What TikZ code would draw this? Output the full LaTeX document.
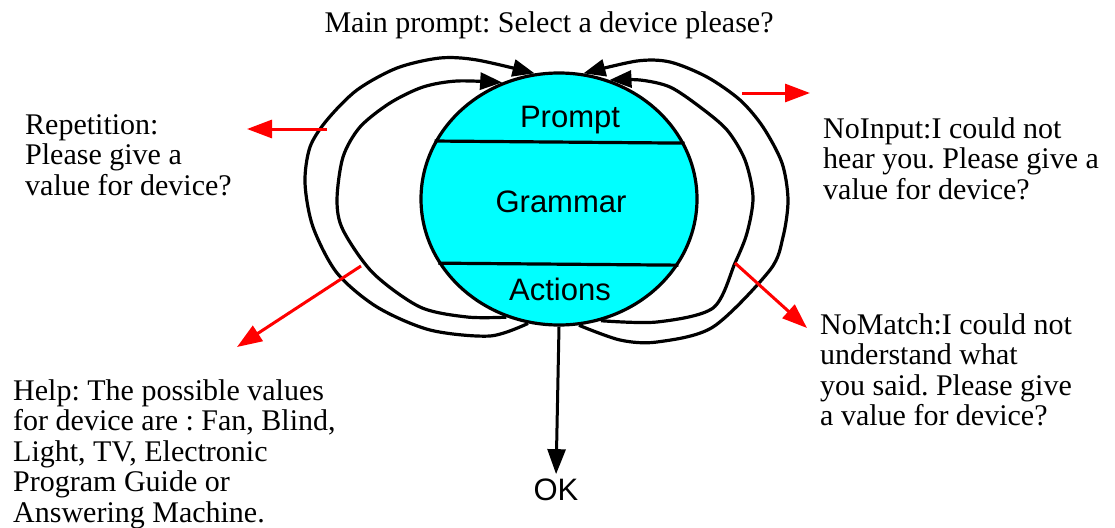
\documentclass[tikz,border=0pt]{standalone}
\usepackage{fontspec}
\setmainfont{Liberation Serif}
\setsansfont{Liberation Sans}
\usetikzlibrary{shapes.geometric,arrows.meta}
\definecolor{aqua}{RGB}{0,255,255}
\definecolor{hintred}{RGB}{255,0,0}
\frenchspacing

\begin{document}
\begin{tikzpicture}[x=1pt, y=-1pt, line join=round,
    txt/.style={font=\fontsize{30}{30.5}\selectfont, align=left, inner sep=0pt, anchor=north west},
    part/.style={font=\sffamily\fontsize{31}{31}\selectfont, inner sep=0pt, anchor=base},
    ring/.style={line width=3.2pt, -{Triangle[length=22pt,width=17pt]}},
    hint/.style={hintred, line width=3pt, -{Triangle[length=25pt,width=18pt]}}]
    \useasboundingbox (0,0) rectangle (1115,527);

    % Define coordinates
    \coordinate (repA) at (327,129);
    \coordinate (repB) at (247,129);
    \coordinate (helpA) at (361,266);
    \coordinate (helpB) at (237,347);
    \coordinate (noinA) at (742,93);
    \coordinate (noinB) at (810,93);
    \coordinate (nomA) at (735,263);
    \coordinate (nomB) at (807,328);

    % Dialogue state
    \node[ellipse, draw, line width=3.2pt, fill=aqua, minimum width=276pt, minimum height=252pt, inner sep=0pt] (dlg) at (559,199) {};
    \draw[line width=3.2pt] (dlg.155.7) -- (dlg.24.3);
    \draw[line width=3.2pt] (dlg.208.3) -- (dlg.331.7);
    \node[part] (prompt) at (570,127) {Prompt};
    \node[part] (gram) at (561,212) {Grammar};
    \node[part] (act) at (560,300) {Actions};

    % Draw loops back to the prompt
    \draw[ring] plot[smooth, tension=0.5] coordinates {(dlg.256) (490,336) (430,330) (377,307) (337,273) (313,227) (305,183) (310,147) (327,120) (357,90) (397,68) (440,58) (477,60) (dlg.101)};
    \draw[ring] plot[smooth, tension=0.5] coordinates {(dlg.246) (467,317) (420,307) (373,273) (343,230) (337,200) (343,157) (360,127) (390,103) (423,87) (457,81) (dlg.116)};
    \draw[ring] plot[smooth, tension=0.5] coordinates {(dlg.279) (620,340) (657,342) (713,327) (770,270) (783,237) (788,200) (782,163) (763,127) (740,100) (707,77) (670,62) (637,61) (dlg.79)};
    \draw[ring] plot[smooth, tension=0.5] coordinates {(dlg.289) (657,322) (713,308) (735,263) (747,233) (753,197) (745,160) (727,130) (700,107) (670,87) (640,80) (dlg.67)};

    % Output
    \node[part] (ok) at (556,500) {OK};
    \draw[line width=3pt, -{Triangle[length=25pt,width=18pt]}, shorten >=4pt] (dlg.south) -- (ok.north);

    % Red arrows
    \draw[hint] (repA) -- (repB);
    \draw[hint] (helpA) -- (helpB);
    \draw[hint] (noinA) -- (noinB);
    \draw[hint] (nomA) -- (nomB);

    % Labels
    \node[txt, anchor=base] (main) at (549,33) {Main prompt: Select a device please?};
    \node[txt] (rep) at (25,114) {Repetition:\\Please give a\\value for device?};
    \node[txt] (help) at (13,379) {Help: The possible values\\for device are : Fan, Blind,\\Light, TV, Electronic\\Program Guide or\\Answering Machine.};
    \node[txt] (noin) at (823,117) {NoInput:I could not\\hear you. Please give a\\value for device?};
    \node[txt] (nom) at (820,313) {NoMatch:I could not\\understand what\\you said. Please give\\a value for device?};
\end{tikzpicture}
\end{document}
